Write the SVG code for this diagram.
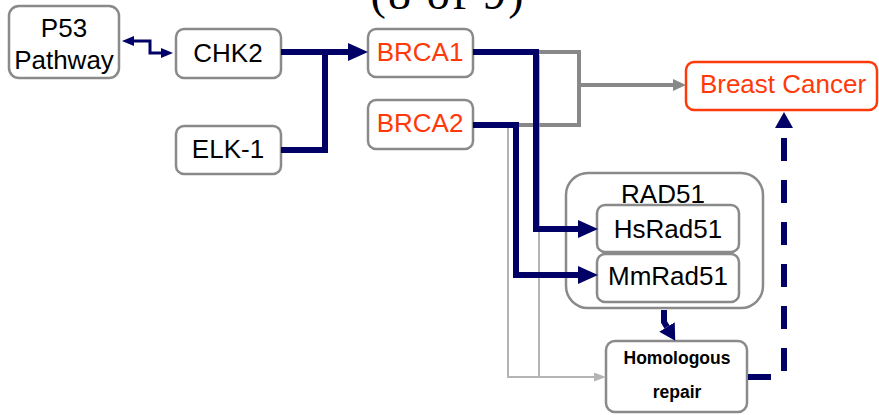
<svg xmlns="http://www.w3.org/2000/svg" width="879" height="415" viewBox="0 0 879 415">
<style>
  .box { fill: #ffffff; stroke: #8a8a8a; stroke-width: 2.5; }
  .bc { fill: #ffffff; stroke: #ff3a0a; stroke-width: 2.5; }
  .t { font-family: "Liberation Sans", Arial, sans-serif; font-size: 26px; fill: #000000; text-anchor: middle; }
  .red { fill: #ff3a0a; }
  .hr { font-family: "Liberation Sans", Arial, sans-serif; font-size: 17.5px; font-weight: bold; fill: #000000; text-anchor: middle; }
  .navy { fill: none; stroke: #000066; stroke-width: 6; stroke-linejoin: miter; }
  .thin { fill: none; stroke: #000066; stroke-width: 3; }
  .gray { fill: none; stroke: #888888; stroke-width: 4; }
  .lgray { fill: none; stroke: #b4b4b4; stroke-width: 2; }
  .dash { fill: none; stroke: #000066; stroke-width: 6; stroke-dasharray: 23 19; }
</style>
<defs>
  <marker id="aNavy" markerUnits="userSpaceOnUse" markerWidth="20" markerHeight="18" viewBox="0 0 20 18" refX="0" refY="9" orient="auto">
    <path d="M0,0 L20,9 L0,18 Z" fill="#000066"/>
  </marker>
  <marker id="aNavyS" markerUnits="userSpaceOnUse" markerWidth="12" markerHeight="10" viewBox="0 0 12 10" refX="0" refY="5" orient="auto-start-reverse">
    <path d="M0,0 L12,5 L0,10 Z" fill="#000066"/>
  </marker>
  <marker id="aGray" markerUnits="userSpaceOnUse" markerWidth="13" markerHeight="12" viewBox="0 0 13 12" refX="0" refY="6" orient="auto">
    <path d="M0,0 L13,6 L0,12 Z" fill="#888888"/>
  </marker>
  <marker id="aLGray" markerUnits="userSpaceOnUse" markerWidth="12" markerHeight="9" viewBox="0 0 12 9" refX="0" refY="4.5" orient="auto">
    <path d="M0,0 L12,4.5 L0,9 Z" fill="#b4b4b4"/>
  </marker>
  <marker id="aDash" markerUnits="userSpaceOnUse" markerWidth="16" markerHeight="18" viewBox="0 0 16 18" refX="0" refY="9" orient="auto">
    <path d="M0,0 L16,9 L0,18 Z" fill="#000066"/>
  </marker>
</defs>

<text x="447" y="9" font-family="'Liberation Serif', 'Times New Roman', serif" font-size="46" text-anchor="middle" textLength="153" fill="#000000">(8 of 9)</text>

<g id="p53">
  <rect class="box" x="9" y="6" width="110" height="72" rx="10"/>
  <text class="t" x="64" y="37">P53</text>
  <text class="t" x="64" y="69">Pathway</text>
</g>
<g id="chk2">
  <rect class="box" x="176" y="29" width="105" height="49" rx="8"/>
  <text class="t" x="228" y="62">CHK2</text>
</g>
<g id="elk1">
  <rect class="box" x="176" y="126" width="105" height="48" rx="8"/>
  <text class="t" x="228" y="158">ELK-1</text>
</g>
<g id="brca1">
  <rect class="box" x="368" y="29" width="105" height="48" rx="8"/>
  <text class="t red" x="420" y="61">BRCA1</text>
</g>
<g id="brca2">
  <rect class="box" x="368" y="100" width="105" height="49" rx="8"/>
  <text class="t red" x="420" y="132">BRCA2</text>
</g>
<g id="breastcancer">
  <rect class="bc" x="686" y="62" width="191" height="48" rx="8"/>
  <text class="t red" x="783" y="93">Breast Cancer</text>
</g>
<g id="rad51">
  <rect class="box" x="566" y="173" width="197" height="135" rx="22"/>
  <text class="t" x="663" y="203">RAD51</text>
  <g id="hsrad51">
    <rect class="box" x="597" y="205" width="142" height="47" rx="8"/>
    <text class="t" x="668" y="238">HsRad51</text>
  </g>
  <g id="mmrad51">
    <rect class="box" x="597" y="254" width="142" height="48" rx="8"/>
    <text class="t" x="668" y="285">MmRad51</text>
  </g>
</g>
<g id="homologous">
  <rect class="box" x="606" y="341" width="141" height="71" rx="9"/>
  <text class="hr" x="677" y="364">Homologous</text>
  <text class="hr" x="677" y="398">repair</text>
</g>

<g id="connectors">
  <path class="lgray" d="M539,55 V377"/>
  <path class="lgray" d="M508,127 V377 H594" marker-end="url(#aLGray)"/>
  <path class="gray" d="M538,52 H579 V125 H518"/>
  <path class="gray" d="M579,85 H673" marker-end="url(#aGray)"/>
  <path class="thin" d="M134,41 H150 V53 H161" marker-start="url(#aNavyS)" marker-end="url(#aNavyS)"/>
  <path class="navy" d="M281,52 H348" marker-end="url(#aNavy)"/>
  <path class="navy" d="M281,150 H325 V52"/>
  <path class="navy" d="M473,52 H536 V229 H578" marker-end="url(#aNavy)"/>
  <path class="navy" d="M473,125 H516 V275 H578" marker-end="url(#aNavy)"/>
  <path class="navy" d="M664,310 V322 L667,327" marker-end="url(#aDash)"/>
  <path class="dash" d="M748,377 H784 V128" marker-end="url(#aDash)"/>
</g>
</svg>
